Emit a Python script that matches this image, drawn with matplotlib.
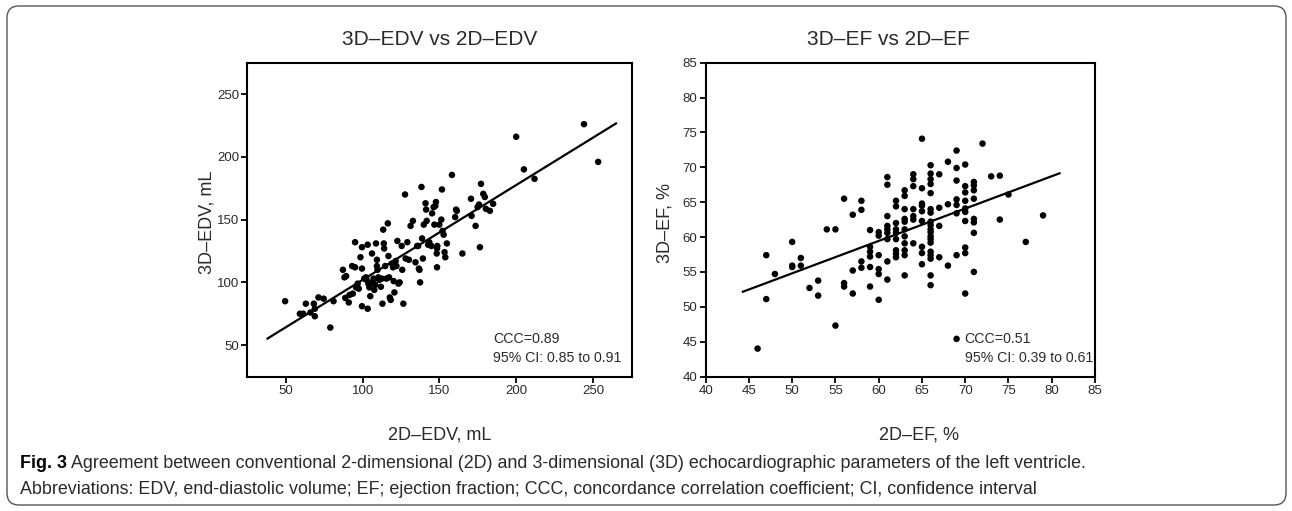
import matplotlib.pyplot as plt
from matplotlib.patches import FancyBboxPatch
import numpy as np

# 3D-EDV vs 2D-EDV (mL)
edv_2d = [49.6, 63.1, 59.2, 61.4, 66.1, 68.3, 68.9, 68.9, 71.3, 74.7, 79.0, 81.1,
          87.2, 88.2, 89.3, 88.7, 91.0, 91.5, 93.2, 93.6, 95.1, 95.1, 95.8, 96.8,
          97.5, 98.6, 99.6, 99.6, 99.6, 101.1, 102.2, 102.6, 103.3, 103.3, 103.7,
          104.4, 105.0, 106.1, 106.5, 107.1, 107.6, 108.2, 108.7, 109.3, 109.3,
          109.7, 110.2, 110.8, 111.9, 112.5, 112.9, 113.4, 113.8, 114.0, 114.7,
          115.5, 116.4, 116.8, 117.2, 117.7, 118.3, 119.0, 119.8, 120.2, 120.7,
          121.5, 122.0, 122.6, 123.3, 124.1, 125.4, 125.8, 126.5, 127.6, 128.0,
          129.1, 130.1, 131.2, 132.7, 134.4, 135.5, 136.1, 136.6, 137.0, 137.4,
          138.3, 138.7, 139.2, 139.8, 140.9, 141.3, 141.7, 142.6, 143.4, 144.7,
          145.2, 146.2, 146.7, 147.3, 147.7, 148.2, 148.4, 148.6, 148.4, 149.9,
          151.2, 151.6, 152.0, 152.7, 153.3, 153.8, 154.8, 158.1, 160.2, 160.8,
          161.3, 164.9, 170.5, 170.9, 173.5, 174.8, 175.7, 176.3, 177.0, 178.5,
          179.5, 180.2, 182.8, 184.9, 199.9, 204.9, 211.8, 244.0, 253.2]
edv_3d = [85, 83, 75, 75, 76, 83, 79, 73, 88, 87, 64, 85,
          110, 104, 105, 87.6, 84, 90, 113, 91, 112, 132, 96, 99,
          95, 120, 128, 111, 81, 103, 104, 102, 79, 130, 99,
          96, 89, 123, 100, 103, 94, 98, 131, 118, 113,
          110, 104, 102, 96.5, 103, 83, 142, 131, 127, 113,
          103, 147, 121, 104, 88, 86, 115, 112, 101, 92,
          117, 113, 133, 99, 100, 129, 110, 83, 170, 119,
          132, 118, 145, 149, 116, 129, 129, 111, 110, 100,
          176, 135, 119, 146, 163, 158, 149, 130, 132, 129,
          155, 160, 146, 161, 164, 123, 127, 129, 112, 146,
          150, 174, 141, 138, 124, 120, 131, 185.6, 152, 158,
          157, 123, 166.6, 153, 145, 160, 162, 128, 178.5, 170.5,
          168, 158.6, 157, 162.6, 216, 190, 182.5, 226, 196]
edv_fit = (26.4, 0.756)          # intercept, slope
edv_fit_range = (38.2, 264.8)
edv_ccc = ["CCC=0.89", "95% CI: 0.85 to 0.91"]

# 3D-EF vs 2D-EF (%)
ef_2d = [46, 47, 47, 48, 50, 50, 50, 51, 51, 52, 53, 53, 54, 55, 55,
         56, 56, 56, 57, 57, 57, 58, 58, 58, 58,
         59, 59, 59, 59, 59, 59, 60, 60, 60, 60, 60, 60,
         61, 61, 61, 61, 61, 61, 61, 61, 61,
         62, 62, 62, 62, 62, 62, 62, 62, 62,
         63, 63, 63, 63, 63, 63, 63, 63, 63, 63, 63,
         64, 64, 64, 64, 64, 64, 64,
         65, 65, 65, 65, 65, 65, 65, 65, 65,
         66, 66, 66, 66, 66, 66, 66, 66, 66, 66, 66, 66, 66, 66, 66, 66, 66, 66, 66,
         67, 67, 67, 67, 68, 68, 68,
         69, 69, 69, 69, 69, 69, 69, 69,
         70, 70, 70, 70, 70, 70, 70, 70, 70, 70,
         71, 71, 71, 71, 71, 71, 71, 71,
         72, 73, 74, 74, 75, 77, 79]
ef_3d = [44.0, 57.4, 51.1, 54.7, 59.3, 55.9, 55.7, 57.0, 55.9, 52.7, 53.75, 51.6, 61.1, 61.1, 47.3,
         65.5, 53.4, 52.9, 63.2, 55.2, 51.9, 65.2, 63.9, 56.5, 55.6,
         61.0, 58.6, 57.9, 57.2, 55.7, 52.9, 60.7, 60.2, 57.4, 55.4, 54.7, 51.0,
         68.6, 67.5, 63.0, 61.6, 61.1, 60.6, 59.7, 56.5, 53.9,
         65.2, 64.4, 62.0, 61.1, 60.6, 59.7, 58.1, 57.6, 57.1,
         66.7, 65.9, 64.0, 62.6, 62.2, 61.1, 60.1, 59.1, 58.1, 57.4, 54.5,
         69.0, 68.3, 67.3, 64.0, 63.0, 62.5, 59.1,
         74.1, 67.0, 64.8, 64.5, 63.7, 62.3, 58.6, 57.7, 56.1,
         70.3, 69.1, 68.3, 67.6, 66.3, 64.0, 63.5, 62.2, 61.7, 61.1, 60.7, 60.1, 59.7,
         59.2, 57.9, 57.4, 56.9, 54.5, 53.1,
         69.0, 64.2, 61.6, 57.1, 70.8, 64.7, 55.9,
         72.4, 69.9, 68.1, 65.4, 64.6, 63.4, 57.4, 45.4,
         70.4, 67.3, 66.4, 65.2, 64.1, 63.6, 62.3, 58.5, 57.7, 51.9,
         67.9, 67.4, 66.7, 65.5, 62.6, 62.1, 60.6, 55.0,
         73.4, 68.7, 68.8, 62.5, 66.1, 59.3, 63.1]
ef_fit = (31.6, 0.464)
ef_fit_range = (44.3, 80.9)
ef_ccc = ["CCC=0.51", "95% CI: 0.39 to 0.61"]

caption_bold = "Fig. 3"
caption_1 = ("Agreement between conventional 2-dimensional (2D) and 3-dimensional (3D) "
             "echocardiographic parameters of the left ventricle.")
caption_2 = ("Abbreviations: EDV, end-diastolic volume; EF; ejection fraction; CCC, "
             "concordance correlation coefficient; CI, confidence interval")

plt.rcParams['font.family'] = ['Liberation Sans', 'DejaVu Sans']
plt.rcParams['axes.linewidth'] = 1.5
txt = '#2a2a2a'

fig = plt.figure(figsize=(12.92, 5.11), dpi=100)
ax1 = fig.add_axes([0.1914, 0.2632, 0.2975, 0.6141])
ax2 = fig.add_axes([0.5462, 0.2632, 0.3013, 0.6141])


def panel(ax, x, y, fit, rng, ann, ann_x, title, xlab, ylab, xlab_x, title_x):
    ax.scatter(x, y, s=22, color='black', edgecolors='none', zorder=3)
    xs = np.array(rng)
    ax.plot(xs, fit[0] + fit[1] * xs, color='black', lw=1.6, zorder=2)
    ax.text(ann_x, 0.118, ann[0], transform=ax.transAxes, fontsize=10.2, color=txt,
            va='center')
    ax.text(ann_x, 0.058, ann[1], transform=ax.transAxes, fontsize=10.2, color=txt,
            va='center')
    ax.set_title(title, fontsize=15, color=txt, pad=13, x=title_x)
    ax.set_xlabel(xlab, fontsize=13, color=txt)
    ax.set_ylabel(ylab, fontsize=13, color=txt)
    ax.xaxis.set_label_coords(xlab_x, -0.16)
    ax.yaxis.set_label_coords(-0.082, 0.49)
    ax.xaxis.label.set_va('top')
    ax.tick_params(direction='out', length=4, width=1.3, pad=2, labelsize=9.5,
                   labelcolor=txt)


panel(ax1, edv_2d, edv_3d, edv_fit, edv_fit_range, edv_ccc, 0.64,
      "3D\u2013EDV vs 2D\u2013EDV", "2D\u2013EDV, mL", "3D\u2013EDV, mL", 0.5, 0.5)
ax1.set_xlim(25, 275)
ax1.set_ylim(25, 275)
ax1.set_xticks([50, 100, 150, 200, 250])
ax1.set_yticks([50, 100, 150, 200, 250])

panel(ax2, ef_2d, ef_3d, ef_fit, ef_fit_range, ef_ccc, 0.665,
      "3D\u2013EF vs 2D\u2013EF", "2D\u2013EF, %", "3D\u2013EF, %", 0.548, 0.47)
ax2.set_xlim(40, 85)
ax2.set_ylim(40, 85)
ax2.set_xticks(range(40, 86, 5))
ax2.set_yticks(range(40, 86, 5))

# caption
cap_size = 12.85
t0 = fig.text(20 / 1292, 1 - 463 / 511, caption_bold, fontsize=cap_size, weight='bold',
              color='black', va='center')
fig.add_artist(plt.Annotation(" " + caption_1, xy=(1, 0), xycoords=t0,
                              fontsize=cap_size, color=txt, va='bottom'))
fig.text(20 / 1292, 1 - 489 / 511, caption_2, fontsize=cap_size,
         color=txt, va='center')

# rounded border around the figure
fig.patches.append(FancyBboxPatch((0.07, 0.06), 12.79, 4.99,
                                  boxstyle='round,pad=0,rounding_size=0.12',
                                  transform=fig.dpi_scale_trans, fill=False,
                                  edgecolor='#555555', lw=1.0))

fig.savefig('out.png', dpi=100)
